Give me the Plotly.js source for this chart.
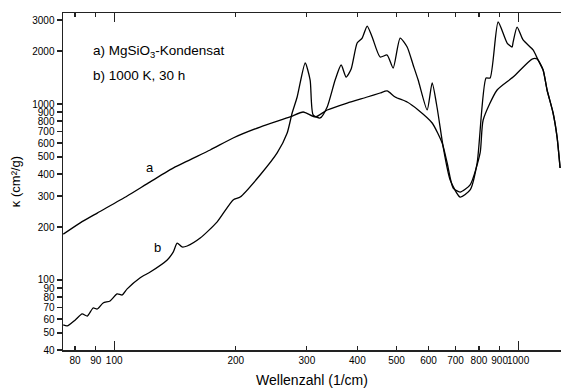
<!DOCTYPE html>
<html>
<head>
<meta charset="utf-8">
<script src="https://cdn.plot.ly/plotly-3.0.1.min.js"></script>
<style>html,body{margin:0;padding:0;background:#fff}#chart{width:561px;height:392px}</style>
</head>
<body>
<div id="chart"></div>
<script>
// Curve a: MgSiO3-Kondensat
const waveA = [74.8, 82.4, 90.8, 107.7, 122.8, 141.6, 172.9, 197.0, 229.8, 272.7, 293.8, 314.5, 336.8, 377.4, 423.0, 455.4, 474.0, 496.1, 531.3, 565.7, 612.7, 648.6, 667.4, 690.6, 718.6, 760.7, 805.3, 819.4, 887.2, 971.9, 1082.9, 1114.3, 1153.1, 1179.6, 1220.6, 1248.8, 1270.5];
const kappaA = [182, 211, 240, 300, 361, 439, 548, 641, 740, 844, 901, 844, 925, 1013, 1096, 1155, 1186, 1096, 1026, 925, 780, 600, 462, 333, 316, 347, 527, 811, 1201, 1423, 1801, 1801, 1560, 1201, 889, 649, 433];
// Curve b: 1000 K, 30 h
const waveB = [74.8, 76.5, 80.1, 83.3, 85.8, 88.7, 90.8, 93.9, 97.7, 101.7, 104.7, 107.7, 116.0, 122.8, 135.3, 140.0, 143.2, 147.3, 151.6, 163.3, 179.9, 197.0, 205.1, 229.8, 253.2, 268.1, 275.8, 283.8, 297.1, 305.6, 310.9, 323.6, 336.8, 352.4, 364.7, 375.2, 386.1, 399.5, 411.1, 423.0, 435.2, 455.4, 474.0, 490.5, 510.5, 531.3, 549.8, 565.7, 595.5, 612.7, 630.4, 652.4, 678.9, 718.6, 760.7, 791.7, 833.0, 852.5, 892.3, 939.3, 966.3, 971.9, 994.3, 1028.9, 1089.1, 1120.7, 1153.1, 1179.6, 1220.6, 1248.8, 1270.5];
const kappaB = [55.5, 54.8, 59.3, 64.1, 62.4, 69.3, 68.4, 74.0, 76.0, 83.3, 82.2, 89, 103, 111, 130, 144, 162, 154, 156, 173, 214, 285, 296, 395, 527, 684, 889, 1096, 1710, 1369, 866, 833, 962, 1369, 1666, 1423, 1580, 2221, 2371, 2773, 2404, 1849, 1898, 1602, 2371, 2109, 1666, 1369, 925, 1316, 949, 570, 370, 296, 325, 462, 1405, 1405, 2924, 2221, 2109, 2249, 2738, 2311, 2028, 1778, 1560, 1201, 889, 649, 433];

const xTicks = [80, 90, 100, 200, 300, 400, 500, 600, 700, 800, 900, 1000];
const xTickText = ['80', '90', '100', '200', '300', '400', '500', '600', '700', '800', '900', '1000'];
const xMajor = [100, 1000];
const yTicks = [40, 50, 60, 70, 80, 90, 100, 200, 300, 400, 500, 600, 700, 800, 900, 1000, 2000, 3000];
const yTickText = ['40', '50', '60', '70', '80', '90', '100', '200', '300', '400', '500', '600', '700', '800', '900', '1000', '2000', '3000'];

const font = 'Arial, "Liberation Sans", sans-serif';
const line = {color: '#000', width: 1.3, shape: 'spline', smoothing: 0.6};

const data = [
  {x: waveA, y: kappaA, mode: 'lines', line: line, name: 'a', hoverinfo: 'x+y'},
  {x: waveB, y: kappaB, mode: 'lines', line: line, name: 'b', hoverinfo: 'x+y'}
];

const xr = [Math.log10(74.7), Math.log10(1277)];
const yr = [Math.log10(40), Math.log10(3290)];

const layout = {
  width: 561, height: 392,
  margin: {l: 63, r: 0, t: 13, b: 42},
  paper_bgcolor: '#fff', plot_bgcolor: '#fff',
  showlegend: false,
  font: {family: font, color: '#000'},
  xaxis: {
    type: 'log', range: xr, showgrid: false, zeroline: false,
    showline: true, linecolor: '#222', linewidth: 1.5, mirror: 'allticks',
    ticks: 'inside', ticklen: 4, tickwidth: 1.2, tickcolor: '#222',
    tickvals: xTicks, ticktext: xTickText, tickangle: 0,
    tickfont: {size: 10, family: font},
    title: {text: 'Wellenzahl (1/cm)', font: {size: 14, family: font}, standoff: 10}
  },
  xaxis2: {
    type: 'log', range: xr, overlaying: 'x', matches: 'x', showgrid: false, zeroline: false,
    showline: false, mirror: 'allticks', ticks: 'inside', ticklen: 9, tickwidth: 1.2, tickcolor: '#222',
    tickvals: xMajor, showticklabels: false
  },
  yaxis: {
    type: 'log', range: yr, showgrid: false, zeroline: false,
    showline: true, linecolor: '#222', linewidth: 1.5,
    ticks: 'outside', ticklen: 5, tickwidth: 1.2, tickcolor: '#222',
    tickvals: yTicks, ticktext: yTickText,
    tickfont: {size: 10, family: font},
    title: {text: 'κ (cm²/g)', font: {size: 13, family: font}, standoff: 8}
  },
  annotations: [
    {x: Math.log10(122.8), y: Math.log10(435), xref: 'x', yref: 'y', text: 'a', showarrow: false, font: {size: 13, family: font}},
    {x: Math.log10(127.8), y: Math.log10(152), xref: 'x', yref: 'y', text: 'b', showarrow: false, font: {size: 13, family: font}},
    {x: 0.057, y: 0.918, xref: 'paper', yref: 'paper', xanchor: 'left', text: 'a) MgSiO<sub>3</sub>-Kondensat', showarrow: false, font: {size: 13.5, family: font}},
    {x: 0.057, y: 0.843, xref: 'paper', yref: 'paper', xanchor: 'left', text: 'b) 1000 K, 30 h', showarrow: false, font: {size: 13.5, family: font}}
  ]
};

// invisible trace that activates the overlay axis carrying the long decade ticks
data.push({x: [100], y: [100], xaxis: 'x2', mode: 'markers', marker: {opacity: 0}, hoverinfo: 'skip'});

Plotly.newPlot('chart', data, layout, {displayModeBar: false, staticPlot: true});
</script>
</body>
</html>
